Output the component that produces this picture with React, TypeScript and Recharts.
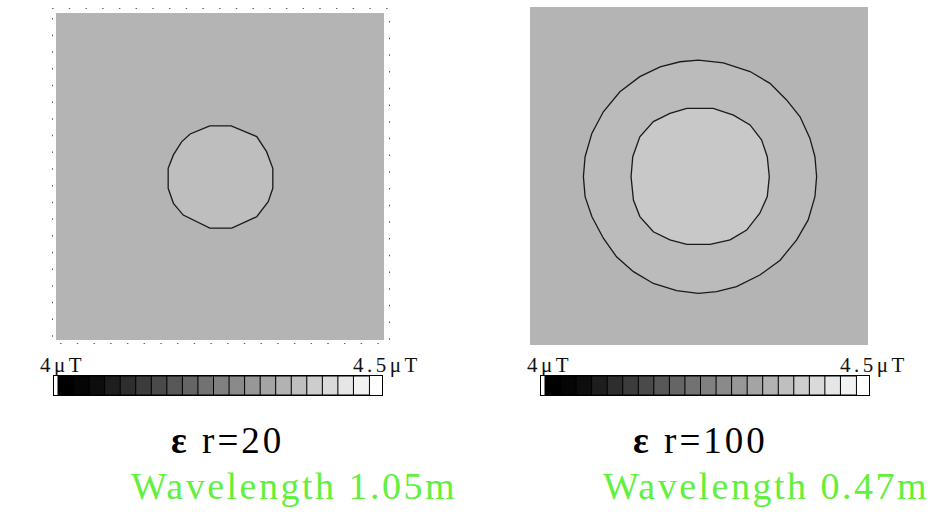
import React from "react";
import {
  ScatterChart,
  Scatter,
  XAxis,
  YAxis,
  ReferenceArea,
  BarChart,
  Bar,
  Cell,
} from "recharts";

// contour traced on the eps_r = 20 field (plot units 0..100)
const leftContour = [
  { x: 46.9, y: 65.5 }, { x: 53.4, y: 65.5 }, { x: 61.2, y: 62.2 }, { x: 64.2, y: 57.6 },
  { x: 66.1, y: 52.5 }, { x: 66.1, y: 46.4 }, { x: 64.7, y: 42.3 }, { x: 61.2, y: 37.7 },
  { x: 53.6, y: 34.2 }, { x: 46.9, y: 34.2 }, { x: 38.8, y: 38.2 }, { x: 35.8, y: 41.8 },
  { x: 34.2, y: 46.4 }, { x: 34.2, y: 52.5 }, { x: 35.8, y: 56.6 }, { x: 38.3, y: 60.6 },
  { x: 40.9, y: 63.0 }, { x: 46.9, y: 65.5 },
];

// two contours on the eps_r = 100 field
const rightOuter = [
  { x: 49.8, y: 84.3 }, { x: 57.2, y: 83.5 }, { x: 65.1, y: 80.9 }, { x: 71.0, y: 77.4 },
  { x: 75.9, y: 72.5 }, { x: 79.9, y: 67.5 }, { x: 82.8, y: 61.2 }, { x: 84.3, y: 55.7 },
  { x: 84.8, y: 49.8 }, { x: 84.3, y: 43.9 }, { x: 82.3, y: 37.0 }, { x: 78.9, y: 31.1 },
  { x: 74.0, y: 25.1 }, { x: 68.0, y: 20.7 }, { x: 61.1, y: 17.3 }, { x: 55.2, y: 15.8 },
  { x: 49.8, y: 15.3 }, { x: 43.4, y: 16.1 }, { x: 36.5, y: 18.2 }, { x: 30.6, y: 21.7 },
  { x: 25.6, y: 26.1 }, { x: 21.7, y: 31.6 }, { x: 18.3, y: 38.0 }, { x: 16.3, y: 43.9 },
  { x: 15.8, y: 49.8 }, { x: 16.3, y: 55.7 }, { x: 18.3, y: 62.6 }, { x: 21.7, y: 69.0 },
  { x: 26.6, y: 74.9 }, { x: 32.5, y: 79.4 }, { x: 38.5, y: 82.3 }, { x: 44.4, y: 83.8 },
  { x: 49.8, y: 84.3 },
];

const rightInner = [
  { x: 46.4, y: 70.0 }, { x: 54.2, y: 70.0 }, { x: 60.2, y: 68.0 }, { x: 65.1, y: 65.1 },
  { x: 68.5, y: 60.7 }, { x: 70.2, y: 55.7 }, { x: 70.8, y: 49.8 }, { x: 70.2, y: 43.9 },
  { x: 68.0, y: 39.0 }, { x: 64.1, y: 34.0 }, { x: 59.2, y: 31.1 }, { x: 53.3, y: 29.8 },
  { x: 46.4, y: 29.8 }, { x: 41.4, y: 31.1 }, { x: 36.5, y: 33.5 }, { x: 32.5, y: 38.0 },
  { x: 30.6, y: 42.9 }, { x: 29.9, y: 49.8 }, { x: 30.4, y: 55.7 }, { x: 32.5, y: 61.6 },
  { x: 36.5, y: 66.1 }, { x: 41.4, y: 68.5 }, { x: 46.4, y: 70.0 },
];

// colour bar, 4 uT (black) to 4.5 uT (white)
const barShades = [
  "#000000", "#050505", "#0d0d0d", "#1e1e1e", "#2e2e2e", "#3c3c3c", "#4a4a4a",
  "#585858", "#656565", "#727272", "#808080", "#8a8a8a", "#979797", "#a4a4a4",
  "#b2b2b2", "#bfbfbf", "#cdcdcd", "#dadada", "#e6e6e6", "#f2f2f2",
];
const barCells = barShades.map((c, i) => ({ level: i, v: 1 }));
const scaleLabels = ["4\u03bcT", "4.5\u03bcT"];

const titles = ["r=20", "r=100"];
const wavelengths = ["Wavelength 1.05m", "Wavelength 0.47m"];

const BG = "#b4b4b4";
const SERIF = "'Liberation Serif', 'Times New Roman', serif";
const noDot = () => <g />;

const Field = ({ width, height, margin, contours, fills, framed }: any) => (
  <ScatterChart width={width} height={height} margin={margin}>
    <XAxis type="number" dataKey="x" domain={[0, 100]} hide allowDataOverflow />
    <YAxis type="number" dataKey="y" domain={[0, 100]} hide allowDataOverflow />
    {framed && (
      <ReferenceArea
        x1={-1.2} x2={101.8} y1={-1.2} y2={101.5}
        ifOverflow="visible"
        fill="none"
        stroke="#333"
        strokeWidth={1.5}
        strokeDasharray="1.5 15.2"
      />
    )}
    <ReferenceArea x1={0} x2={100} y1={0} y2={100} fill={BG} fillOpacity={1} stroke="none" />
    {contours.map((c: any, i: number) => (
      <Scatter
        key={i}
        data={c}
        shape={noDot}
        line={{ stroke: "#1a1a1a", strokeWidth: 1.3, fill: fills[i] }}
        lineType="joint"
        isAnimationActive={false}
      />
    ))}
  </ScatterChart>
);

const labelStyle: React.CSSProperties = {
  position: "absolute",
  top: 0,
  fontFamily: SERIF,
  fontSize: 21,
  lineHeight: "21px",
  letterSpacing: 3.5,
  whiteSpace: "nowrap",
  color: "#111",
};

const ColorBar = ({ left }: { left: number }) => (
  <div style={{ position: "absolute", left, top: 355, width: 360, height: 42 }}>
    <div style={{ ...labelStyle, left: -13 }}>{scaleLabels[0]}</div>
    <div style={{ ...labelStyle, left: 300 }}>{scaleLabels[1]}</div>
    <div style={{ position: "absolute", left: 0, top: 20, width: 330, height: 21, border: "1px solid #000", boxSizing: "border-box", background: "#fff" }}>
      <BarChart width={328} height={19} data={barCells} margin={{ top: 0, right: 13, bottom: 0, left: 4 }} barCategoryGap={0}>
        <XAxis dataKey="level" hide />
        <YAxis domain={[0, 1]} hide />
        <Bar dataKey="v" isAnimationActive={false} stroke="#000" strokeWidth={1}>
          {barCells.map((c, i) => (
            <Cell key={i} fill={barShades[i]} />
          ))}
        </Bar>
      </BarChart>
    </div>
  </div>
);

const Caption = ({ left, title, wave, waveLeft }: any) => (
  <>
    <div style={{ position: "absolute", left, top: 422, fontFamily: SERIF, fontSize: 37, lineHeight: "37px", letterSpacing: 3, color: "#000", whiteSpace: "nowrap" }}>
      <span style={{ fontWeight: 700 }}>{"\u03b5"}</span> {title}
    </div>
    <div style={{ position: "absolute", left: waveLeft, top: 467, fontFamily: SERIF, fontSize: 38, lineHeight: "38px", letterSpacing: 2.5, color: "#62f03c", whiteSpace: "nowrap" }}>
      {wave}
    </div>
  </>
);

export default function App() {
  return (
    <div style={{ position: "absolute", left: 0, top: 0, width: 931, height: 521, background: "#fff", overflow: "hidden" }}>
      <div style={{ position: "absolute", left: 52, top: 8 }}>
        <Field
          width={338}
          height={336}
          margin={{ top: 5, right: 6, bottom: 4, left: 4 }}
          contours={[leftContour]}
          fills={["#bebebe"]}
          framed
        />
      </div>
      <div style={{ position: "absolute", left: 530, top: 7 }}>
        <Field
          width={338}
          height={338}
          margin={{ top: 0, right: 0, bottom: 0, left: 0 }}
          contours={[rightOuter, rightInner]}
          fills={["#bbbbbb", "#c8c8c8"]}
        />
      </div>
      <ColorBar left={53} />
      <ColorBar left={540} />
      <Caption left={171} title={titles[0]} waveLeft={131} wave={wavelengths[0]} />
      <Caption left={633} title={titles[1]} waveLeft={603} wave={wavelengths[1]} />
    </div>
  );
}
